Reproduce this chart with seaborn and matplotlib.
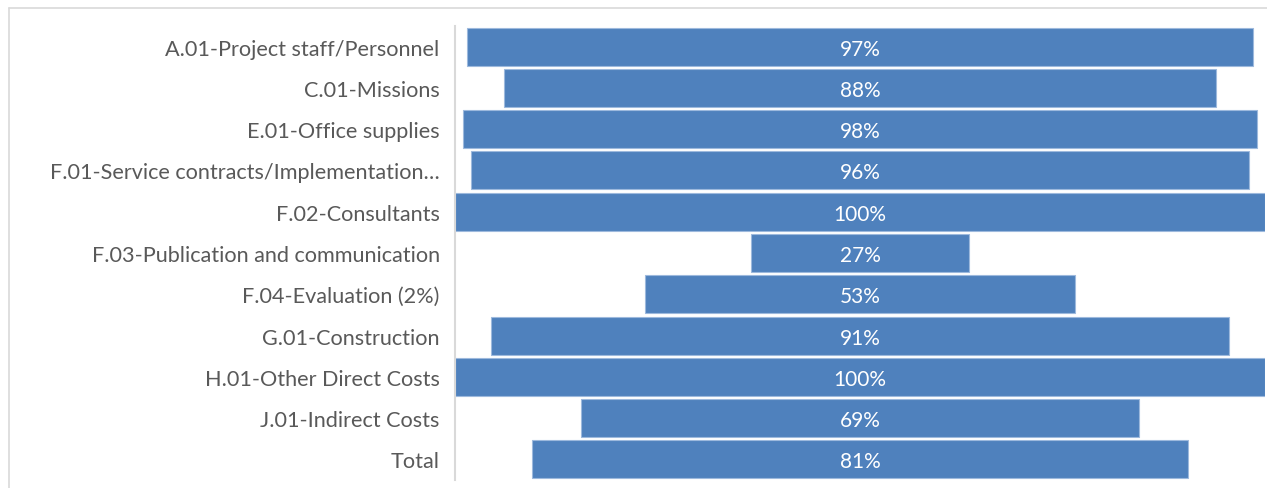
import matplotlib
matplotlib.use("Agg")
import matplotlib.pyplot as plt
import seaborn as sns
import pandas as pd
from matplotlib.lines import Line2D

categories = [
    "A.01-Project staff/Personnel",
    "C.01-Missions",
    "E.01-Office supplies",
    "F.01-Service contracts/Implementation\u2026",
    "F.02-Consultants",
    "F.03-Publication and communication",
    "F.04-Evaluation (2%)",
    "G.01-Construction",
    "H.01-Other Direct Costs",
    "J.01-Indirect Costs",
    "Total",
]
values = [97, 88, 98, 96, 100, 27, 53, 91, 100, 69, 81]

sns.set_theme(style="white")
plt.rcParams["font.family"] = ["Lato", "DejaVu Sans"]

df = pd.DataFrame({"cat": categories, "val": [v / 100 for v in values]})

fig = plt.figure(figsize=(12.67, 4.89), dpi=100)
ax = fig.add_axes([455 / 1267, 1 - 481 / 489, 810 / 1267, 454 / 489])

sns.barplot(data=df, x="val", y="cat", orient="h", color="#4F81BD", saturation=1,
            width=0.92, edgecolor="#9DB9DD", linewidth=0.8, ax=ax)

# center the bars (funnel)
for p, v in zip(ax.patches, df["val"]):
    p.set_x(-v / 2)
    p.set_width(v)

for i, v in enumerate(values):
    ax.text(0, i, f"{v}%", ha="center", va="center_baseline", color="white", fontsize=15)

ax.set_xlim(-0.5, 0.5)
ax.set_xlabel("")
ax.set_ylabel("")
ax.set_xticks([])
ax.tick_params(axis="y", length=0, pad=11, labelsize=15.6, labelcolor="#595959")
for s in ["top", "right", "bottom"]:
    ax.spines[s].set_visible(False)
ax.spines["left"].set_color("#D9D9D9")
ax.spines["left"].set_linewidth(1.5)

# outer chart frame (top and left edges)
fig.add_artist(Line2D([9 / 1267, 1.0], [1 - 9 / 489, 1 - 9 / 489], transform=fig.transFigure,
                      color="#D9D9D9", lw=1.2))
fig.add_artist(Line2D([9 / 1267, 9 / 1267], [0.0, 1 - 9 / 489], transform=fig.transFigure,
                      color="#D9D9D9", lw=1.2))

fig.savefig("out.png", dpi=100)
